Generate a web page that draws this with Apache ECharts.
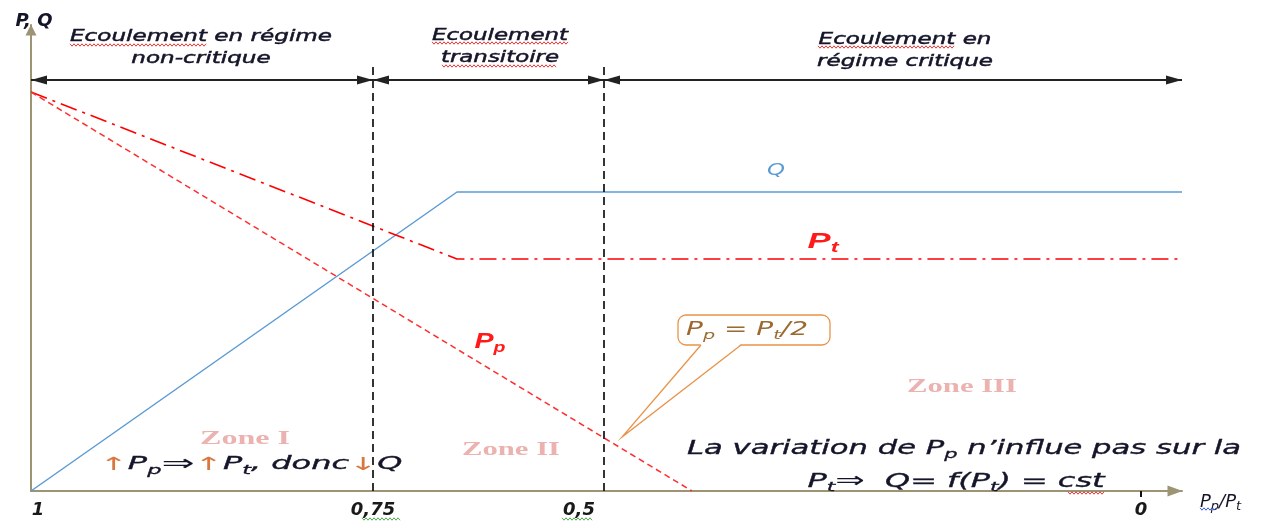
<!DOCTYPE html>
<html><head><meta charset="utf-8">
<script src="https://cdn.jsdelivr.net/npm/echarts@6/dist/echarts.min.js"></script>
<style>html,body{margin:0;padding:0;background:#fff}#c{width:1274px;height:522px}</style>
</head><body><div id="c"></div>
<script>
// ---- data (schematic units: x = position along P_p/P_t axis, y = P / Q level) ----
const xTickValues = [0, 342, 573, 1110];
const xTickLabels = ['1', '0,75', '0,5', '0'];
const qX  = [0, 426, 1151];
const qY  = [0, 299, 299];
const ptX = [0, 426, 1151];
const ptY = [399, 232, 232];
const ppX = [0, 661];
const ppY = [399, 0];
const boundaryX = [342, 573];       // regime boundaries (0,75 and 0,5)
const boundaryTop = 424;
const regimeArrowY = 411;
const regimeSpans = [[0, 342], [342, 573], [573, 1151]];
const xMax = 1151, yMax = 466;

const zip = (a, b) => a.map((v, i) => [v, b[i]]);

// ---- text measurement helper for horizontal stretch ----
const ctx = document.createElement('canvas').getContext('2d');
function fontOf(st, base) {
  const s = Object.assign({}, base, st || {});
  return (s.fontStyle || 'normal') + ' ' + (s.fontWeight || 'normal') + ' ' + s.fontSize + 'px ' + s.fontFamily;
}
function textWidth(str, base, rich) {
  return Math.max.apply(null, str.split('\n').map(line => {
    let w = 0; const re = /\{(\w+)\|([^}]*)\}|([^{]+)/g; let m;
    while ((m = re.exec(line))) {
      if (m[1]) { ctx.font = fontOf(rich[m[1]], base); w += ctx.measureText(m[2]).width; }
      else { ctx.font = fontOf(null, base); w += ctx.measureText(m[3]).width; }
    }
    return w;
  }));
}
function label(x, y, w, text, base, rich) {
  rich = rich || {};
  const sx = w / textWidth(text, base, rich);
  return {
    type: 'text', x: x, y: y, scaleX: sx, z: 10,
    style: Object.assign({
      text: text, align: 'center', verticalAlign: 'middle',
      textAlign: 'center', textVerticalAlign: 'middle', rich: rich
    }, base)
  };
}
// spell-check style wavy underline
function wavy(x0, x1, y, color) {
  const pts = [];
  for (let x = x0, k = 0; x <= x1; x += 2, k++) pts.push([x, y + (k % 2 ? 1.2 : -1.2)]);
  return { type: 'polyline', z: 9, shape: { points: pts }, style: { fill: null, stroke: color, lineWidth: 1 } };
}

const DARK = '#15152a';
const head = { fontFamily: 'DejaVu Sans', fontStyle: 'italic', fontSize: 15, lineHeight: 22, fill: DARK, stroke: DARK, lineWidth: 0.45 };
const zone = { fontFamily: 'Liberation Serif', fontWeight: 'bold', fontSize: 18, fill: '#ebb2b0' };
const note = { fontFamily: 'DejaVu Sans', fontStyle: 'italic', fontSize: 19, lineHeight: 24, fill: DARK, stroke: DARK, lineWidth: 0.35 };
const subNote = { fontFamily: 'DejaVu Sans', fontStyle: 'italic', fontSize: 13, lineHeight: 24, verticalAlign: 'bottom', fill: DARK, stroke: DARK, lineWidth: 0.3 };
const dbl = { fontFamily: 'DejaVu Sans', fontSize: 21, lineHeight: 24, fill: DARK };
const redP = { fontFamily: 'Liberation Sans', fontStyle: 'italic', fontWeight: 'bold', fontSize: 22, lineHeight: 26, fill: '#ff1a1a' };
const redSub = { fontFamily: 'Liberation Sans', fontStyle: 'italic', fontWeight: 'bold', fontSize: 15, lineHeight: 26, verticalAlign: 'bottom', fill: '#ff1a1a' };
const call = { fontFamily: 'DejaVu Sans', fontStyle: 'italic', fontSize: 19, lineHeight: 24, fill: '#9c6a30' };
const callSub = { fontFamily: 'DejaVu Sans', fontStyle: 'italic', fontSize: 13, lineHeight: 24, verticalAlign: 'bottom', fill: '#9c6a30' };
const arrowC = { fontFamily: 'DejaVu Sans', fontSize: 18, lineHeight: 24, fill: '#d9773f' };

const ORANGE = '#e8944a';
const graphics = [
  { type: 'rect', z: 5, shape: { x: 678, y: 315, width: 152, height: 30, r: 8 },
    style: { fill: '#fff', stroke: ORANGE, lineWidth: 1.3 } },
  { type: 'polygon', z: 6, shape: { points: [[701, 344], [622, 437], [741, 344]] },
    style: { fill: '#fff', stroke: null } },
  { type: 'polyline', z: 7, shape: { points: [[701, 345], [622, 437], [741, 345]] },
    style: { fill: null, stroke: ORANGE, lineWidth: 1.3 } },
  label(201, 48, 262, 'Ecoulement en régime\nnon-critique', head),
  label(500, 47, 136, 'Ecoulement\ntransitoire', head),
  label(905, 51, 176, 'Ecoulement en\nrégime critique', head),
  label(776, 171, 18, 'Q', { fontFamily: 'DejaVu Sans', fontStyle: 'italic', fontSize: 16, fill: '#5b9bd5' }),
  label(823, 242, 31, '{p|P}{s|t}', { fontSize: 22, fontFamily: 'Liberation Sans' }, { p: redP, s: redSub }),
  label(490, 342, 31, '{p|P}{s|p}', { fontSize: 22, fontFamily: 'Liberation Sans' }, { p: redP, s: redSub }),
  label(245, 439, 90, 'Zone I', zone),
  label(511, 450, 98, 'Zone II', zone),
  label(962, 387, 110, 'Zone III', zone),
  label(251, 465, 303, '{a|↑}{n|P}{s|p}{d|⇒}{a|↑}{n|P}{s|t}{n|, donc}{a|↓}{n|Q}',
        { fontFamily: 'DejaVu Sans', fontSize: 17 },
        { n: Object.assign({}, note, { fontSize: 17 }), s: Object.assign({}, subNote, { fontSize: 12 }), a: arrowC, d: dbl }),
  label(964, 449, 554, '{n|La variation de P}{s|p}{n| n’influe pas sur la}',
        { fontFamily: 'DejaVu Sans', fontSize: 19 }, { n: note, s: subNote }),
  label(956, 482, 297, '{n|P}{s|t}{d|⇒}{n|  Q= f(P}{s|t}{n|) = cst}',
        { fontFamily: 'DejaVu Sans', fontSize: 19 }, { n: note, s: subNote, d: dbl }),
  label(747, 330, 122, '{n|P}{s|p}{n| = P}{s|t}{n|/2}',
        { fontFamily: 'DejaVu Sans', fontSize: 19 }, { n: call, s: callSub }),
  wavy(70, 207, 45, '#e03a3a'),
  wavy(432, 568, 43, '#e03a3a'),
  wavy(442, 557, 66, '#e03a3a'),
  wavy(818, 955, 47, '#e03a3a'),
  wavy(1068, 1105, 493, '#e03a3a'),
  wavy(362, 400, 519, '#52a852'),
  wavy(562, 592, 519, '#52a852'),
  wavy(1200, 1216, 509, '#3a5ad9')
];

const tickFont = { fontFamily: 'DejaVu Sans', fontStyle: 'italic', fontWeight: 'bold', fontSize: 18, color: '#1a1a1a' };
const labelRich = {
  one: Object.assign({ padding: [0, 0, 0, 14] }, tickFont),
  half: Object.assign({ padding: [0, 50, 0, 0] }, tickFont),
  std: Object.assign({}, tickFont)
};

const chart = echarts.init(document.getElementById('c'), null, { renderer: 'canvas' });
chart.setOption({
  animation: false,
  backgroundColor: '#fff',
  grid: { left: 31, top: 25, width: xMax, height: yMax, containLabel: false },
  xAxis: {
    type: 'value', min: 0, max: xMax,
    name: '{a|P}{b|p}{a|/P}{b|t}', nameLocation: 'end', nameGap: 18,
    nameTextStyle: {
      padding: [22, 0, 0, 0], align: 'left',
      rich: {
        a: { fontFamily: 'DejaVu Sans', fontStyle: 'italic', fontSize: 18, color: DARK, lineHeight: 22 },
        b: { fontFamily: 'DejaVu Sans', fontStyle: 'italic', fontSize: 13, color: DARK, lineHeight: 22, verticalAlign: 'bottom' }
      }
    },
    axisLine: { show: true, lineStyle: { color: '#9c9473', width: 2 }, symbol: ['none', 'triangle'], symbolSize: [11, 15], symbolOffset: [0, -7] },
    axisTick: { show: true, customValues: [xTickValues[3]], length: 6, lineStyle: { color: '#111', width: 2 } },
    axisLabel: {
      show: true, customValues: xTickValues, margin: 10,
      formatter: v => {
        const i = xTickValues.indexOf(v);
        const t = xTickLabels[i];
        return i === 0 ? '{one|' + t + '}' : (i === 2 ? '{half|' + t + '}' : '{std|' + t + '}');
      },
      fontFamily: 'DejaVu Sans', fontStyle: 'italic', fontWeight: 'bold', fontSize: 18, color: '#1a1a1a',
      rich: labelRich
    },
    splitLine: { show: false }
  },
  yAxis: {
    type: 'value', min: 0, max: yMax,
    name: 'P, Q', nameLocation: 'end', nameGap: 4,
    nameTextStyle: { fontFamily: 'DejaVu Sans', fontStyle: 'italic', fontWeight: 'bold', fontSize: 18, color: DARK, verticalAlign: 'middle', padding: [0, 0, 0, 6] },
    axisLine: { show: true, lineStyle: { color: '#9c9473', width: 2 }, symbol: ['none', 'triangle'], symbolSize: [11, 11], symbolOffset: [0, -5] },
    axisTick: { show: false }, axisLabel: { show: false }, splitLine: { show: false }
  },
  series: [
    { name: 'Q', type: 'line', data: zip(qX, qY), symbol: 'none', silent: true,
      lineStyle: { color: '#5b9bd5', width: 1.5 }, z: 3 },
    { name: 'Pt', type: 'line', data: zip(ptX, ptY), symbol: 'none', silent: true,
      lineStyle: { color: '#ff0000', width: 1.6, type: [17, 6, 3, 6] }, z: 3 },
    { name: 'Pp', type: 'line', data: zip(ppX, ppY), symbol: 'none', silent: true,
      lineStyle: { color: '#ff2e2e', width: 1.5, type: [6, 4] }, z: 3,
      markLine: {
        silent: true, symbol: 'none', label: { show: false }, animation: false,
        lineStyle: { color: '#111', width: 1.7, type: [8, 5] },
        data: boundaryX.map(x => [{ coord: [x, 0] }, { coord: [x, boundaryTop] }])
      }
    },
    { name: 'regimes', type: 'line', data: zip(qX, qY), symbol: 'none', silent: true,
      lineStyle: { opacity: 0 }, z: 4,
      markLine: {
        silent: true, label: { show: false }, animation: false,
        symbol: ['triangle', 'triangle'],
        lineStyle: { color: '#222', width: 2, type: 'solid' },
        itemStyle: { color: '#111' },
        data: regimeSpans.map(s => [
          { coord: [s[0], regimeArrowY], symbol: 'triangle', symbolSize: [9, 16], symbolOffset: [0, 8] },
          { coord: [s[1], regimeArrowY], symbol: 'triangle', symbolSize: [9, 16], symbolOffset: [0, 8] }
        ])
      }
    }
  ],
  graphic: graphics
});
</script>
</body></html>
